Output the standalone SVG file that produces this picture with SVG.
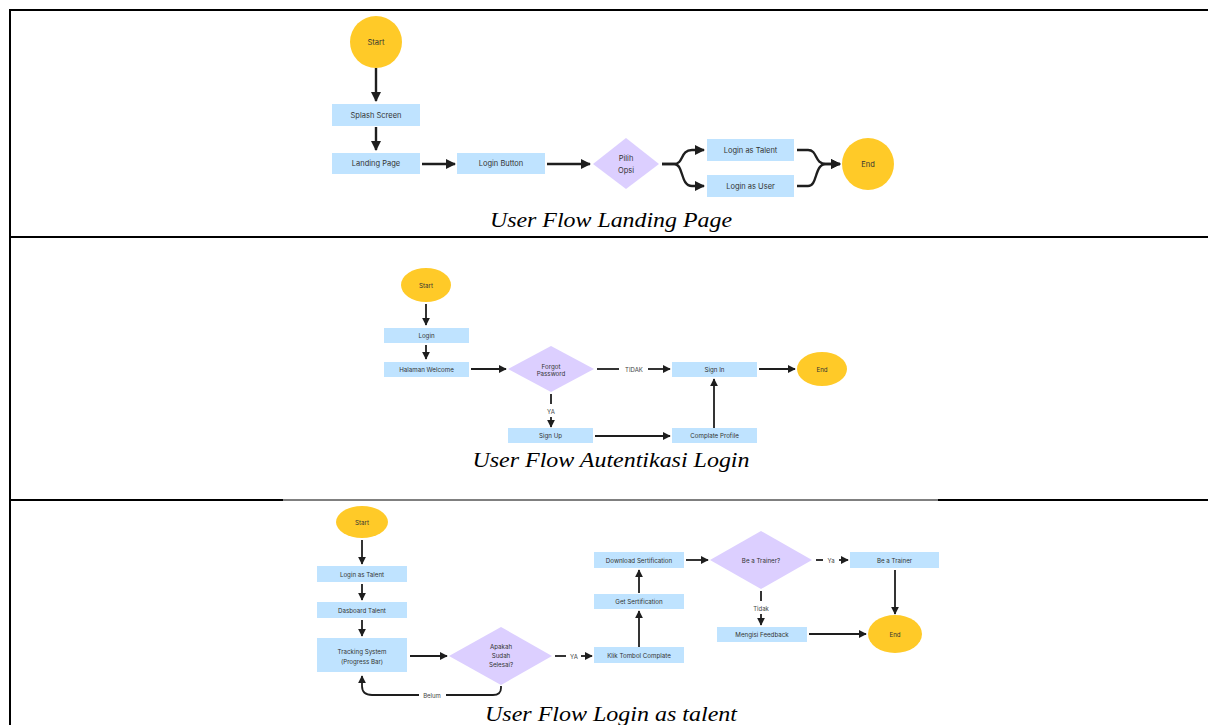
<svg xmlns="http://www.w3.org/2000/svg" width="1208" height="725" viewBox="0 0 1208 725">
<defs>
<marker id="ah" viewBox="0 0 10 10" refX="9" refY="5" markerWidth="10" markerHeight="10" markerUnits="userSpaceOnUse" orient="auto"><path d="M0,0 L10,5 L0,10 Z" fill="#1e1e1e"/></marker>
<marker id="as" viewBox="0 0 10 10" refX="9" refY="5" markerWidth="8" markerHeight="8" markerUnits="userSpaceOnUse" orient="auto"><path d="M0,0 L10,5 L0,10 Z" fill="#1e1e1e"/></marker>
</defs>
<style>
.term{fill:#ffca28}
.box{fill:#bfe3ff}
.dia{fill:#dccfff}
.t1{font-family:Inter,"Liberation Sans",sans-serif;font-size:7.5px;fill:#333;text-anchor:middle;dominant-baseline:central}
.t2{font-family:Inter,"Liberation Sans",sans-serif;font-size:6.2px;fill:#333;text-anchor:middle;dominant-baseline:central}
.lbl{font-family:Inter,"Liberation Sans",sans-serif;font-size:6px;fill:#444;text-anchor:middle;dominant-baseline:central}
.c1{fill:none;stroke:#1e1e1e;stroke-width:2.4;marker-end:url(#ah)}
.c2{fill:none;stroke:#1e1e1e;stroke-width:1.8;marker-end:url(#as)}
.c2n{fill:none;stroke:#1e1e1e;stroke-width:1.8}
.cap{font-family:"Liberation Serif",serif;font-style:italic;font-size:21px;fill:#000;text-anchor:middle}
.border{stroke:#000;stroke-width:2;fill:none}
</style>
<rect width="1208" height="725" fill="#fff"/>
<g id="table">
<line class="border" x1="9" y1="10" x2="1208" y2="10"/>
<line class="border" x1="10" y1="9" x2="10" y2="725"/>
<line class="border" x1="10" y1="237" x2="1208" y2="237"/>
<line class="border" x1="10" y1="500" x2="283" y2="500"/>
<line x1="283" y1="500" x2="938" y2="500" stroke="#000" stroke-width="1"/>
<line class="border" x1="938" y1="500" x2="1208" y2="500"/>
</g>
<g id="connectors">
<path class="c1" d="M376,68 L376,101"/>
<path class="c1" d="M376,127 L376,150"/>
<path class="c1" d="M422,164 L455,164"/>
<path class="c1" d="M547,164 L590,164"/>
<path class="c1" d="M662,164 L674,164 C684,164 680,150 692,150 L704,150"/>
<path class="c1" d="M662,164 L674,164 C684,164 680,186 692,186 L704,186"/>
<path class="c1" d="M797,150 L808,150 C818,150 814,164 826,164 L840,164"/>
<path class="c1" d="M797,186 L808,186 C818,186 814,164 826,164 L840,164"/>
<path class="c2" d="M426,304 L426,325"/>
<path class="c2" d="M426,345 L426,359"/>
<path class="c2" d="M471,369 L506,369"/>
<path class="c2n" d="M597,369 L619,369"/>
<text class="lbl" x="634" y="369">TIDAK</text>
<path class="c2" d="M648,369 L670,369"/>
<path class="c2" d="M759,369 L795,369"/>
<path class="c2n" d="M551,394 L551,404"/>
<text class="lbl" x="551" y="411">YA</text>
<path class="c2" d="M551,417 L551,427"/>
<path class="c2" d="M595,436 L670,436"/>
<path class="c2" d="M714,428 L714,379"/>
<path class="c2" d="M362,540 L362,564"/>
<path class="c2" d="M362,584 L362,600"/>
<path class="c2" d="M362,620 L362,636"/>
<path class="c2" d="M410,656 L447,656"/>
<path class="c2n" d="M555,656 L566,656"/>
<text class="lbl" x="574" y="656">YA</text>
<path class="c2" d="M581,656 L592,656"/>
<path class="c2n" d="M501,686 L501,688 C501,693 498,695 493,695 L446,695"/>
<text class="lbl" x="432" y="695">Belum</text>
<path class="c2" d="M419,695 L372,695 C366,695 362,692 362,686 L362,676"/>
<path class="c2" d="M639,647 L639,611"/>
<path class="c2" d="M639,593 L639,570"/>
<path class="c2" d="M686,560 L708,560"/>
<path class="c2n" d="M816,560 L823,560"/>
<text class="lbl" x="831" y="560">Ya</text>
<path class="c2" d="M839,560 L848,560"/>
<path class="c2" d="M895,570 L895,614"/>
<path class="c2n" d="M761,591 L761,601"/>
<text class="lbl" x="761" y="608">Tidak</text>
<path class="c2" d="M761,614 L761,625"/>
<path class="c2" d="M809,634 L866,634"/>
</g>
<g id="s1-start"><circle class="term" cx="376" cy="42" r="26"/><text class="t1" x="376" y="42">Start</text></g>
<g id="s1-splash"><rect class="box" x="332" y="104" width="88" height="22"/><text class="t1" x="376" y="115">Splash Screen</text></g>
<g id="s1-landing"><rect class="box" x="332" y="153" width="88" height="21"/><text class="t1" x="376" y="163.5">Landing Page</text></g>
<g id="s1-loginbtn"><rect class="box" x="457" y="153" width="88" height="21"/><text class="t1" x="501" y="163.5">Login Button</text></g>
<g id="s1-pilih"><polygon class="dia" points="626,138 659,164 626,189 593,164"/><text class="t1" x="626" y="158">Pilih</text><text class="t1" x="626" y="170">Opsi</text></g>
<g id="s1-talent"><rect class="box" x="707" y="139" width="87" height="22"/><text class="t1" x="750.5" y="150">Login as Talent</text></g>
<g id="s1-user"><rect class="box" x="707" y="175" width="87" height="22"/><text class="t1" x="750.5" y="186">Login as User</text></g>
<g id="s1-end"><circle class="term" cx="868" cy="164" r="26"/><text class="t1" x="868" y="164">End</text></g>
<text class="cap" x="611" y="227" textLength="242" lengthAdjust="spacingAndGlyphs">User Flow Landing Page</text>
<g id="s2-start"><ellipse class="term" cx="426" cy="285" rx="25" ry="17"/><text class="t2" x="426" y="285">Start</text></g>
<g id="s2-login"><rect class="box" x="384" y="328" width="85" height="15"/><text class="t2" x="426.5" y="335.5">Login</text></g>
<g id="s2-welcome"><rect class="box" x="384" y="362" width="85" height="15"/><text class="t2" x="426.5" y="369.5">Halaman Welcome</text></g>
<g id="s2-forgot"><polygon class="dia" points="551,346 594,369 551,392 508,369"/><text class="t2" x="551" y="366">Forgot</text><text class="t2" x="551" y="373">Password</text></g>
<g id="s2-signin"><rect class="box" x="672" y="362" width="85" height="15"/><text class="t2" x="714.5" y="369.5">Sign In</text></g>
<g id="s2-end"><ellipse class="term" cx="822" cy="369" rx="25" ry="17"/><text class="t2" x="822" y="369">End</text></g>
<g id="s2-signup"><rect class="box" x="508" y="428" width="85" height="15"/><text class="t2" x="550.5" y="435.5">Sign Up</text></g>
<g id="s2-profile"><rect class="box" x="672" y="428" width="85" height="15"/><text class="t2" x="714.5" y="435.5">Complate Profile</text></g>
<text class="cap" x="611" y="467" textLength="277" lengthAdjust="spacingAndGlyphs">User Flow Autentikasi Login</text>
<g id="s3-start"><ellipse class="term" cx="362" cy="522" rx="26" ry="16"/><text class="t2" x="362" y="522">Start</text></g>
<g id="s3-talent"><rect class="box" x="317" y="566" width="90" height="16"/><text class="t2" x="362" y="574">Login as Talent</text></g>
<g id="s3-dash"><rect class="box" x="317" y="602" width="90" height="16"/><text class="t2" x="362" y="610">Dasboard Talent</text></g>
<g id="s3-track"><rect class="box" x="317" y="638" width="90" height="34"/><text class="t2" x="362" y="651">Tracking System</text><text class="t2" x="362" y="661">(Progress Bar)</text></g>
<g id="s3-selesai"><polygon class="dia" points="501,627 552,656 501,685 449,656"/><text class="t2" x="501" y="646">Apakah</text><text class="t2" x="501" y="655">Sudah</text><text class="t2" x="501" y="664">Selesai?</text></g>
<g id="s3-klik"><rect class="box" x="594" y="647" width="90" height="16"/><text class="t2" x="639" y="655">Klik Tombol Complate</text></g>
<g id="s3-get"><rect class="box" x="594" y="594" width="90" height="15"/><text class="t2" x="639" y="601.5">Get Sertification</text></g>
<g id="s3-download"><rect class="box" x="594" y="552" width="90" height="16"/><text class="t2" x="639" y="560">Download Sertification</text></g>
<g id="s3-betrainerq"><polygon class="dia" points="761,531 812,560 761,589 710,560"/><text class="t2" x="761" y="560">Be a Trainer?</text></g>
<g id="s3-betrainer"><rect class="box" x="850" y="552" width="89" height="16"/><text class="t2" x="894.5" y="560">Be a Trainer</text></g>
<g id="s3-feedback"><rect class="box" x="717" y="627" width="90" height="15"/><text class="t2" x="762" y="634.5">Mengisi Feedback</text></g>
<g id="s3-end"><ellipse class="term" cx="895" cy="634" rx="27" ry="19"/><text class="t2" x="895" y="634">End</text></g>
<text class="cap" x="611" y="721" textLength="252" lengthAdjust="spacingAndGlyphs">User Flow Login as talent</text>
</svg>
